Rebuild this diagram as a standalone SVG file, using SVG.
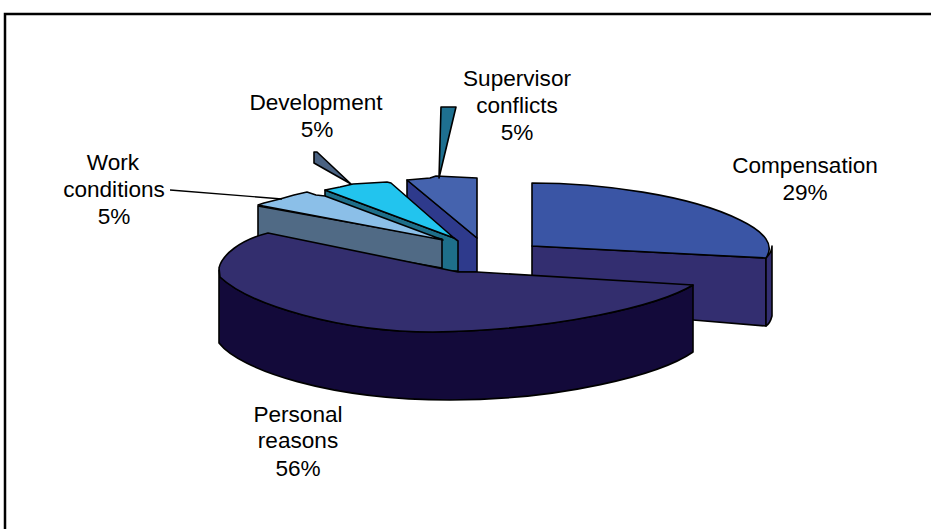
<svg xmlns="http://www.w3.org/2000/svg" width="931" height="529" viewBox="0 0 931 529">
<style>
.o{stroke:#000;stroke-width:1.6;stroke-linejoin:round}
.t{font-family:"Liberation Sans",Arial,sans-serif;font-size:22.6px;fill:#000;text-anchor:middle}
</style>
<rect width="931" height="529" fill="#fff"/>
<path d="M5,531 L5,14 L933,14" fill="none" stroke="#000" stroke-width="2.5"/>
<g id="supervisor">
<path class="o" d="M407,215 L407,180 L477,238 L477,272 L458,272 Z" fill="#2e3a8c"/>
<path class="o" d="M407,180 L430,178 L436,176 L477,178 L477,238 Z" fill="#4563ae"/>
</g>
<g id="development">
<path class="o" d="M325,226 L325,190 L454,238 L458,241 L458,271 L445,271 Z" fill="#1e6f8a"/>
<path class="o" d="M325,190 L340,187 L353,184 L370,183 L387,182 L391,183 L454,238 Z" fill="#22c4ee"/>
</g>
<g id="work">
<path class="o" d="M258,206 L442,239 L442,268 L258,236 Z" fill="#506a85"/>
<path class="o" d="M258,205 L264,203 L280,199 L294,195 L307,192 L316,195 L325,196 L443,240 Z" fill="#8bbfe8"/>
</g>
<g id="compensation">
<path class="o" d="M532,246 L766,258 L766,326 L693,320 L532,310 Z" fill="#332e70"/>
<path class="o" d="M766,258 C770,254 772,250 772,246 L772,316 C771,320 769,324 766,326 Z" fill="#332e70"/>
<path class="o" d="M532,183 C600,183 690,195 740,220 C765,232 775,245 766,258 L532,246 Z" fill="#3a55a5"/>
</g>
<g id="personal">
<path class="o" d="M219,270 L219,343 C240,370 330,400 450,400 C560,400 660,375 693,352 L693,285 C660,305 560,330 433,332 C340,332 250,305 220,277 Z" fill="#130a3a"/>
<path class="o" d="M268,233 L458,272 L477,272 L693,285 C660,305 560,330 433,332 C340,332 250,305 220,277 L219,268 C222,255 240,240 268,233 Z" fill="#332e6e"/>
</g>
<g id="connectors">
<path class="o" d="M314,152 L317,152 L351,184 L314,163 Z" fill="#4a6282" stroke-width="1"/>
<path class="o" d="M441,107 L456,107 L439,178 Z" fill="#1e7090" stroke-width="1.2"/>
<line x1="170" y1="190" x2="282" y2="199" stroke="#000" stroke-width="1.3"/>
</g>
<g id="labels">
<text class="t" x="517" y="86">Supervisor</text>
<text class="t" x="517" y="113">conflicts</text>
<text class="t" x="517" y="140">5%</text>
<text class="t" x="316" y="110">Development</text>
<text class="t" x="317" y="137">5%</text>
<text class="t" x="113" y="170">Work</text>
<text class="t" x="114" y="197">conditions</text>
<text class="t" x="114" y="224">5%</text>
<text class="t" x="805" y="173">Compensation</text>
<text class="t" x="805" y="200">29%</text>
<text class="t" x="298" y="422">Personal</text>
<text class="t" x="298" y="448">reasons</text>
<text class="t" x="298" y="476">56%</text>
</g>
</svg>
